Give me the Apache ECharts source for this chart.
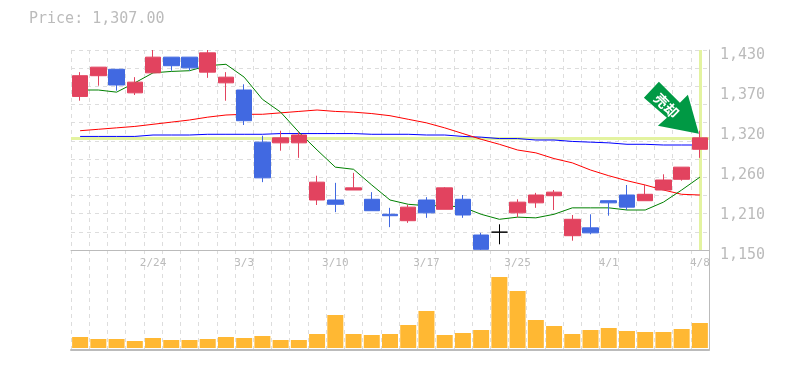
<!DOCTYPE html>
<html>
<head>
<meta charset="utf-8">
<style>html,body{margin:0;padding:0;background:#fff}#c{width:785px;height:370px}</style>
<script src="https://cdn.jsdelivr.net/npm/echarts@6/dist/echarts.min.js"></script>
</head>
<body>
<div id="c"></div>
<script>
const dates = ['2/18','2/19','2/20','2/21','2/24','2/25','2/26','2/27','2/28','3/3','3/4','3/5','3/6','3/7','3/10','3/11','3/12','3/13','3/14','3/17','3/18','3/19','3/21','3/24','3/25','3/26','3/27','3/28','3/31','4/1','4/2','4/3','4/4','4/7','4/8'];
const shownDates = ['2/24','3/3','3/10','3/17','3/25','4/1','4/8'];
// open, close, low, high
const candles = [
 [1365,1394,1359,1399],[1394,1406,1380,1406],[1403,1381,1373,1403],[1370,1385,1367,1392],[1398,1420,1398,1430],
 [1420,1408,1401,1420],[1420,1405,1401,1420],[1399,1426,1391,1430],[1384,1392,1359,1399],[1374,1331,1325,1382],
 [1301,1251,1245,1310],[1300,1307,1289,1317],[1300,1311,1279,1315],[1220,1245,1213,1254],[1220,1214,1203,1244],
 [1234,1237,1234,1258],[1221,1205,1205,1231],[1200,1198,1182,1209],[1191,1210,1188,1213],[1220,1202,1195,1224],
 [1207,1237,1207,1238],[1221,1199,1195,1227],[1171,1151,1150,1174],[1175,1175,1158,1186],[1202,1217,1196,1221],
 [1216,1227,1209,1230],[1226,1231,1206,1234],[1170,1193,1163,1199],[1181,1174,1172,1200],[1219,1216,1198,1219],
 [1227,1210,1206,1241],[1219,1228,1219,1241],[1234,1248,1234,1256],[1249,1266,1247,1266],[1291,1307,1279,1317]
];
const maShort = [1374,1374,1371,1384,1398,1400,1401,1408,1410,1392,1361,1343,1315,1290,1266,1263,1241,1220,1214,1212,1212,1210,1200,1193,1196,1195,1200,1209,1209,1209,1206,1206,1217,1234,1252];
const maMid = [1317,1319,1321,1323,1326,1329,1332,1336,1339,1340,1340,1342,1344,1346,1344,1343,1341,1338,1333,1328,1321,1313,1305,1298,1290,1286,1278,1272,1262,1254,1247,1241,1234,1228,1227];
const maLong = [1309,1309,1309,1309,1311,1311,1311,1312,1312,1312,1312,1313,1313,1313,1313,1313,1312,1312,1312,1311,1311,1309,1308,1306,1306,1304,1304,1302,1301,1300,1298,1298,1297,1297,1297];
const volumes = [11,9,9,7,10,8,8,9,11,10,12,8,8,14,33,14,13,14,23,37,13,15,18,71,57,28,22,14,18,20,17,16,16,19,25];
const priceTicks = [1150,1206,1262,1318,1374,1430];
const priceTickLabels = ['1,150','1,210','1,260','1,320','1,370','1,430'];
const lastPrice = 1307;
const titleText = 'Price: 1,307.00';
const signalText = '売却';

const mono = '"DejaVu Sans Mono", "Liberation Mono", monospace';
const gray = '#bbbbbb';
const gridLine = {show:true, lineStyle:{color:'#dddddd', width:1, type:[4,4]}};
const chart = echarts.init(document.getElementById('c'), null, {renderer:'canvas'});
chart.setOption({
  animation:false,
  backgroundColor:'#fff',
  title:{text:titleText, left:24, top:7, textStyle:{fontFamily:mono, fontSize:15, fontWeight:'normal', color:gray}},
  grid:[
    {left:71, width:638, top:50, height:200},
    {left:71, width:638, top:250, height:100}
  ],
  xAxis:[
    {type:'category', gridIndex:0, data:dates, boundaryGap:true,
     axisLine:{show:true, onZero:false, lineStyle:{color:gray, width:1}}, axisTick:{show:false},
     splitLine:Object.assign({interval:0}, gridLine),
     axisLabel:{interval:(i,v)=>shownDates.includes(v), hideOverlap:false, color:gray, fontFamily:mono, fontSize:11, margin:8}},
    {type:'category', gridIndex:1, data:dates, boundaryGap:true,
     axisLine:{show:true, onZero:false, lineStyle:{color:gray, width:2}}, axisTick:{show:false},
     splitLine:Object.assign({interval:0}, gridLine), axisLabel:{show:false}}
  ],
  yAxis:[
    {type:'value', gridIndex:0, position:'right', min:1150, max:1430, scale:true,
     axisLine:{show:true, lineStyle:{color:gray, width:1}}, axisTick:{show:false}, splitLine:{show:false},
     axisLabel:{customValues:priceTicks, margin:11, color:gray, fontFamily:mono, fontSize:15, verticalAlign:'top', lineHeight:11,
       formatter:v=>priceTickLabels[priceTicks.indexOf(v)]}},
    {type:'value', gridIndex:0, position:'left', min:0, max:11, interval:1,
     axisLine:{show:false}, axisTick:{show:false}, axisLabel:{show:false}, splitLine:gridLine},
    {type:'value', gridIndex:1, position:'right', min:-2, max:98,
     axisLine:{show:true, lineStyle:{color:gray, width:1}}, axisTick:{show:false}, axisLabel:{show:false}, splitLine:{show:false}}
  ],
  series:[
    {type:'line', name:'long', xAxisIndex:0, yAxisIndex:0, data:maLong, showSymbol:false, z:2, silent:true,
     lineStyle:{color:'#0000ff', width:1},
     markLine:{silent:true, symbol:'none', z:1, animation:false, label:{show:false},
       lineStyle:{color:'#e3f3a0', width:3, type:'solid'},
       data:[{yAxis:lastPrice},{xAxis:dates[dates.length-1]}]}},
    {type:'line', name:'mid', xAxisIndex:0, yAxisIndex:0, data:maMid, showSymbol:false, z:2, silent:true,
     lineStyle:{color:'#ff0000', width:1}},
    {type:'line', name:'short', xAxisIndex:0, yAxisIndex:0, data:maShort, showSymbol:false, z:2, silent:true,
     lineStyle:{color:'#008000', width:1}},
    {type:'candlestick', xAxisIndex:0, yAxisIndex:0, data:candles, barWidth:16, z:3,
     itemStyle:{color:'#e2435f', color0:'#4169e1', borderColor:'#e2435f', borderColor0:'#4169e1', borderColorDoji:'#000000', borderWidth:1},
     markPoint:{silent:true, z:6, animation:false,
       data:[{coord:[dates[dates.length-1], lastPrice],
         symbol:'path://M15 0 L36 21 L44 13 L55 52 L14 44 L23 36 L0 16 Z',
         symbolSize:[55,52], symbolKeepAspect:false, symbolOffset:[-28.5,-30],
         itemStyle:{color:'#009944'},
         label:{show:true, formatter:signalText, position:'inside', rotate:-45, offset:[-5,2],
           color:'#fff', fontFamily:'"Noto Sans CJK JP"', fontWeight:'bold', fontSize:14}}]}},
    {type:'bar', xAxisIndex:1, yAxisIndex:2, data:volumes, barWidth:16, z:3, itemStyle:{color:'#ffb833'}}
  ]
});
</script>
</body>
</html>
